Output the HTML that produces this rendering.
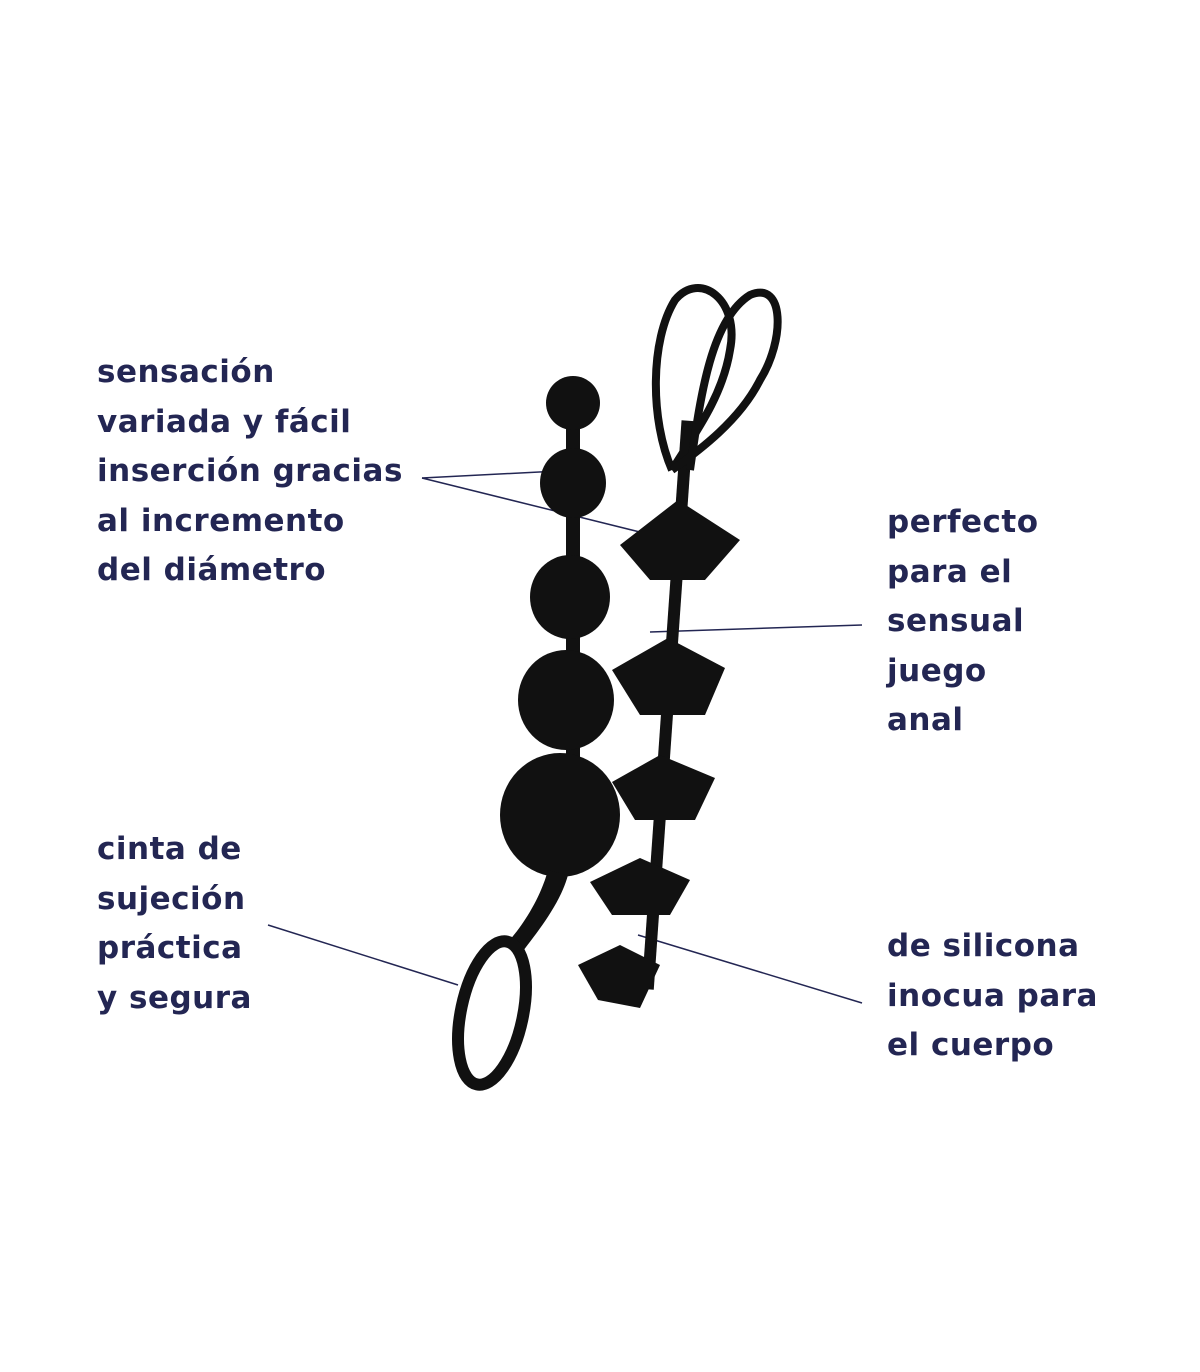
<!DOCTYPE html>
<html><head><meta charset="utf-8"><style>
html,body{margin:0;padding:0;background:#fff;}
body{width:1200px;height:1372px;position:relative;overflow:hidden;font-family:"DejaVu Sans","Liberation Sans",sans-serif;}
.t{position:absolute;color:#232653;font-size:31px;font-weight:bold;line-height:49.5px;letter-spacing:0.5px;}
svg{position:absolute;left:0;top:0;}
</style></head><body>
<svg width="1200" height="1372" viewBox="0 0 1200 1372">
<g stroke="#232653" stroke-width="1.5" fill="none">
<line x1="422" y1="478" x2="578" y2="470"/>
<line x1="422" y1="478" x2="660" y2="537"/>
<line x1="862" y1="625" x2="650" y2="632"/>
<line x1="268" y1="925" x2="458" y2="985"/>
<line x1="862" y1="1003" x2="638" y2="935"/>
</g>
<g fill="#111">
<!-- left beads -->
<rect x="566" y="400" width="14" height="440"/>
<circle cx="573" cy="403" r="27"/>
<ellipse cx="573" cy="483" rx="33" ry="35"/>
<ellipse cx="570" cy="597" rx="40" ry="42"/>
<ellipse cx="566" cy="700" rx="48" ry="50"/>
<ellipse cx="560" cy="815" rx="60" ry="62"/>
<path d="M548 870 C540 900 520 930 505 945 L520 955 C535 935 560 905 568 875 Z"/>
</g>
<ellipse cx="492" cy="1013" rx="31" ry="73" transform="rotate(12 492 1013)" fill="none" stroke="#111" stroke-width="12"/>
<g fill="#111">
<!-- right diamonds -->
<rect x="662" y="420" width="12" height="570" transform="rotate(4 668 700)"/>
<path d="M678 500 L740 540 L705 580 L650 580 L620 545 Z"/>
<path d="M668 638 L725 668 L705 715 L640 715 L612 670 Z"/>
<path d="M660 755 L715 778 L695 820 L635 820 L612 782 Z"/>
<path d="M640 858 L690 880 L670 915 L612 915 L590 882 Z"/>
<path d="M620 945 L660 965 L640 1008 L598 1000 L578 965 Z"/>
</g>
<g fill="none" stroke="#111" stroke-width="8">
<path d="M672 470 C650 420 650 340 675 300 C700 270 740 300 730 350 C722 400 690 440 672 470"/>
<path d="M690 470 C700 400 710 320 750 295 C785 280 785 340 760 380 C740 420 700 450 672 470"/>
</g>
</svg>
<div class="t" style="left:97px;top:348px;">sensación<br>variada y fácil<br>inserción gracias<br>al incremento<br>del diámetro</div>
<div class="t" style="left:97px;top:825px;">cinta de<br>sujeción<br>práctica<br>y segura</div>
<div class="t" style="left:887px;top:498px;">perfecto<br>para el<br>sensual<br>juego<br>anal</div>
<div class="t" style="left:887px;top:922px;">de silicona<br>inocua para<br>el cuerpo</div>
</body></html>
